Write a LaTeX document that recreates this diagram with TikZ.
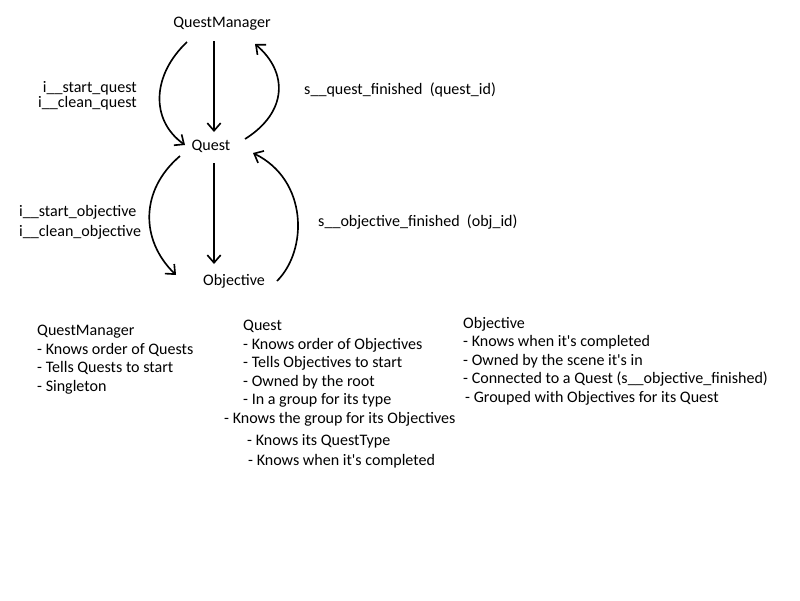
\documentclass[tikz,border=0pt]{standalone}
\usepackage{fontspec}
\setmainfont{Carlito}[Ligatures=TeXOff]
\usepackage{tikz}
\usetikzlibrary{arrows.meta,positioning}

\begin{document}
\begin{tikzpicture}[
    font=\fontsize{13.7}{15.8}\selectfont,
    cls/.style={
        inner sep=0pt
    },
    lbl/.style={
        inner sep=0pt
    },
    info/.style={
        inner sep=0pt,
        anchor=north west,
        align=left
    },
    arr/.style={-{Straight Barb[length=2.3mm,width=4mm]}, line width=1.4pt}
]
\useasboundingbox (0,0) rectangle (24,-18);

% the three classes
\node[cls] (qm) at (6.66,-0.72) {QuestManager};
\node[cls] (quest) at (6.33,-4.38) {Quest};
\node[cls] (obj) at (7.02,-8.43) {Objective};

% signals between them
\node[lbl, anchor=east, align=right] (qmcalls) at (4.11,-2.865)
{i\_\_start\_quest\\[-3pt] i\_\_clean\_quest};
\node[lbl, anchor=west] (qsignal) at (9.12,-2.7)
{s\_\_quest\_finished\ \ (quest\_id)};
\node[lbl, anchor=west, align=left] (qcalls) at (0.57,-6.66)
{i\_\_start\_objective\\[1.2pt] i\_\_clean\_objective};
\node[lbl, anchor=west] (osignal) at (9.54,-6.66)
{s\_\_objective\_finished\ \ (obj\_id)};

\draw[arr] ([xshift=-1.05cm,yshift=-0.54cm]qm.center)
    .. controls (4.56,-2.25) and (4.5,-3.6) ..
    ([xshift=-0.78cm,yshift=0.03cm]quest.center);
\draw[arr] ([xshift=-0.24cm,yshift=-0.51cm]qm.center) --
    ([xshift=0.09cm,yshift=0.42cm]quest.center);
\draw[arr] ([xshift=1.02cm,yshift=0.21cm]quest.center)
    .. controls (8.64,-3.36) and (8.64,-2.16) ..
    ([xshift=0.99cm,yshift=-0.6cm]qm.center);

\draw[arr] ([xshift=-0.93cm,yshift=-0.3cm]quest.center)
    .. controls (4.2,-5.7) and (4.2,-7.2) ..
    ([xshift=-1.74cm,yshift=0.18cm]obj.center);
\draw[arr] ([xshift=0.09cm,yshift=-0.51cm]quest.center) --
    ([xshift=-0.6cm,yshift=0.51cm]obj.center);
\draw[arr] ([xshift=1.29cm]obj.center)
    .. controls (9.24,-7.5) and (9.24,-5.4) ..
    ([xshift=1.26cm,yshift=-0.21cm]quest.center);

% notes
\node[info] (qmnote) at (1.11,-9.75)
{QuestManager\\
- Knows order of Quests\\
- Tells Quests to start\\
- Singleton};

\node[info] (questnote) at (6.72,-9.6)
{\hspace*{0.57cm}Quest\\
\hspace*{0.57cm}- Knows order of Objectives\\
\hspace*{0.57cm}- Tells Objectives to start\\
\hspace*{0.57cm}- Owned by the root\\
\hspace*{0.57cm}- In a group for its type\\
- Knows the group for its Objectives\\[3.4pt]
\hspace*{0.69cm}- Knows its QuestType\\[0.8pt]
\hspace*{0.72cm}- Knows when it's completed};

\node[info] (objnote) at (13.89,-9.51)
{Objective\\
- Knows when it's completed\\
- Owned by the scene it's in\\
- Connected to a Quest (s\_\_objective\_finished)\\
\hspace*{0.06cm}- Grouped with Objectives for its Quest};

\end{tikzpicture}
\end{document}
